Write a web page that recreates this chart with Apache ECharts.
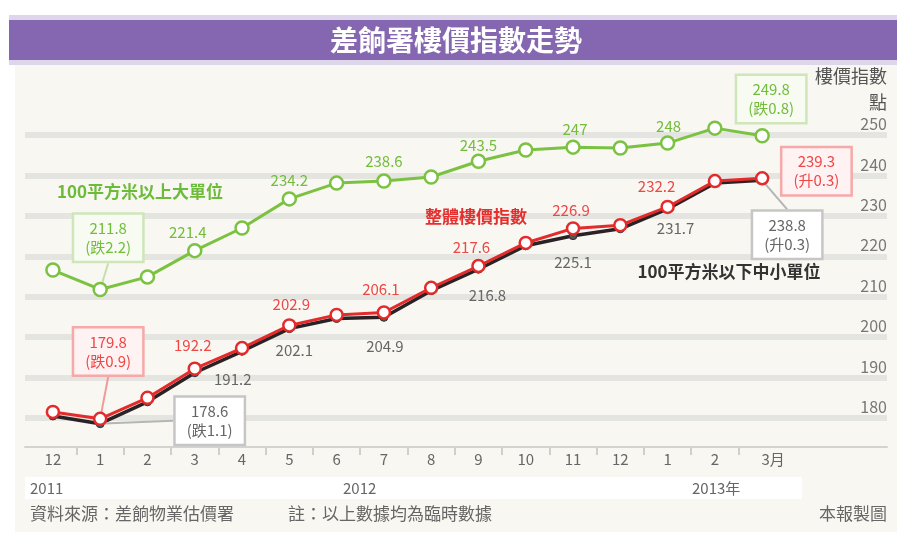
<!DOCTYPE html>
<html><head><meta charset="utf-8">
<script src="https://cdn.jsdelivr.net/npm/echarts@6/dist/echarts.min.js"></script>
<style>html,body{margin:0;padding:0;background:#fff}#c{width:908px;height:540px}</style>
</head><body><div id="c"></div>
<script>
// ---- data ----
const months = ['12','1','2','3','4','5','6','7','8','9','10','11','12','1','2','3月'];
const years = ['2011','2012','2013年'];
const yTicks = [180,190,200,210,220,230,240,250];
const largeUnits  = [216.6,211.8,214.9,221.4,227.0,234.2,238.1,238.6,239.6,243.5,246.3,247,246.8,248,251.7,249.8];
const overall     = [181.5,179.8,185.0,192.2,197.3,202.9,205.5,206.1,212.2,217.6,223.3,226.9,227.7,232.2,238.6,239.3];
const smallMedium = [180.5,178.6,184.0,191.2,196.5,202.1,204.6,204.9,211.5,216.8,222.6,225.1,226.8,231.7,238.1,238.8];
const seriesNames = ['100平方米以上大單位','整體樓價指數','100平方米以下中小單位'];

// ---- styling (label placement) ----
const FONT = "'Noto Sans CJK TC','Noto Sans',sans-serif";
const styleCfg = {
  green: {color:'#7cc242', text:'#72bd3c', pos:'top', dist:5,
    plain:{3:[-7,2],5:[0,2],7:[0,0],9:[0,4],11:[2,2],13:[1,3]},
    box:{1:{pos:'top',d:[8,-16],line:true},15:{pos:'top',d:[9,-1],line:false}},
    boxBg:'#f7fbf1', boxBorder:'#cfe6bb', lineColor:'#c3e0ab'},
  red: {color:'#e42b2b', text:'#ef4646', pos:'top', dist:7,
    plain:{3:[-2,-2],5:[2,1],7:[-3,-1],9:[-7,3],11:[-2,4],13:[-11,1]},
    box:{1:{pos:'top',d:[8,-32],line:true},15:{pos:'right',d:[42,-7],line:false}},
    boxBg:'#fff2f2', boxBorder:'#f5a9a9', lineColor:'#f29a9a'},
  black: {color:'#2a2224', text:'#666666', pos:'bottom', dist:5,
    plain:{3:[38,-10],5:[5,5],7:[1,12],9:[9,9],11:[0,10],13:[8,2]},
    box:{1:{pos:'right',d:[100,-3],line:true},15:{pos:'bottom',d:[25,22],line:true}},
    boxBg:'#ffffff', boxBorder:'#c6c6c6', lineColor:'#b5b5b5'}
};

function pct(arr,i){const c=(arr[i]/arr[i-1]-1)*100;return (c<0?'跌':'升')+Math.abs(c).toFixed(1);}
function buildData(vals,cfg){
  return vals.map((v,i)=>{
    const item={value:[i,v]};
    if(cfg.plain[i]){item.label={show:true,position:cfg.pos,distance:cfg.dist};}
    if(cfg.box[i]){
      item.label={show:true,position:cfg.box[i].pos,distance:5,
        formatter:String(v)+'\n('+pct(vals,i)+')',
        backgroundColor:cfg.boxBg,borderColor:cfg.boxBorder,borderWidth:2.5,
        padding:[4,11],lineHeight:19,align:'center'};
      item.labelLine={show:cfg.box[i].line,lineStyle:{color:cfg.lineColor,width:2}};
    }
    return item;
  });
}
function makeSeries(name,vals,cfg,opts){
  return Object.assign({
    name:name,type:'line',clip:false,data:buildData(vals,cfg),
    lineStyle:{color:cfg.color,width:3},
    itemStyle:{color:'#ffffff',borderColor:cfg.color,borderWidth:2.5},
    symbol:'circle',symbolSize:12,
    label:{show:false,color:cfg.text,fontSize:15,fontFamily:FONT,formatter:p=>String(p.value[1])},
    labelLine:{show:false,lineStyle:{color:cfg.lineColor,width:2}},
    labelLayout:function(p){
      const b=cfg.box[p.dataIndex];
      const d=b?b.d:cfg.plain[p.dataIndex];
      return d?{dx:d[0],dy:d[1]}:{};
    },
    emphasis:{disabled:true}
  },opts||{});
}

const chart=echarts.init(document.getElementById('c'));
const txt=(t,x,y,o)=>({type:'text',z:100,style:Object.assign({text:t,x:x,y:y,font:'15px '+FONT,fill:'#666',textAlign:'left',textVerticalAlign:'middle'},o||{})});

chart.setOption({
  backgroundColor:'#ffffff',
  animation:false,
  grid:{left:25,right:21,top:135,bottom:122},
  xAxis:{type:'value',min:-0.59,max:17.64,offset:29,
    splitLine:{show:false},
    axisLine:{show:true,lineStyle:{color:'#d3d3d0',width:2}},
    axisTick:{show:true,customValues:months.slice(1).map((m,i)=>i+0.5),length:8,lineStyle:{color:'#cfcfcc',width:2}},
    axisLabel:{customValues:months.map((m,i)=>i),margin:5,color:'#666',fontSize:15,fontFamily:FONT,
      formatter:v=>{const i=Math.round(v);return i===months.length-1?'{m|'+months[i]+'}':months[i];},
      rich:{m:{padding:[0,0,0,22],color:'#666',fontSize:15,fontFamily:FONT}}}
  },
  yAxis:{type:'value',position:'right',min:yTicks[0],max:yTicks[yTicks.length-1],interval:10,
    axisLine:{show:false},axisTick:{show:false},
    splitLine:{show:true,lineStyle:{color:'#e4e4e1',width:6}},
    axisLabel:{inside:true,margin:0,align:'right',verticalAlign:'bottom',padding:[0,0,3,0],color:'#777',fontSize:16,fontFamily:FONT}
  },
  series:[
    makeSeries(seriesNames[0],largeUnits,styleCfg.green,{symbolSize:13}),
    makeSeries(seriesNames[2],smallMedium,styleCfg.black,{symbolSize:8,lineStyle:{color:'#2a2224',width:3.5},itemStyle:{color:'#555',borderColor:'#333',borderWidth:1}}),
    makeSeries(seriesNames[1],overall,styleCfg.red,{})
  ],
  graphic:[
    {type:'rect',z:-100,shape:{x:15,y:65,width:882,height:467},style:{fill:'#f8f7f1'}},
    {type:'rect',z:-99,shape:{x:9,y:15,width:888,height:50},style:{fill:'#ddd5ea'}},
    {type:'rect',z:-98,shape:{x:9,y:20,width:888,height:40},style:{fill:'#8567b1'}},
    {type:'rect',z:-97,shape:{x:25,y:477,width:777,height:22},style:{fill:'#ffffff'}},
    txt('差餉署樓價指數走勢',456,40,{font:'bold 28px '+FONT,fill:'#ffffff',textAlign:'center'}),
    txt(years[0],30,488,{font:'15px '+FONT}),
    txt(years[1],343,488,{font:'15px '+FONT}),
    txt(years[2],692,488,{font:'15px '+FONT}),
    txt('資料來源：差餉物業估價署',30,514,{font:'17px '+FONT}),
    txt('註：以上數據均為臨時數據',288,514,{font:'17px '+FONT}),
    txt('本報製圖',887,514,{font:'17px '+FONT,textAlign:'right'}),
    txt('樓價指數',887,76,{font:'18px '+FONT,fill:'#555',textAlign:'right'}),
    txt('點',887,102,{font:'18px '+FONT,fill:'#555',textAlign:'right'}),
    txt(seriesNames[0],140,192,{font:'bold 17px '+FONT,fill:'#6dbb3a',textAlign:'center'}),
    txt(seriesNames[1],476,217,{font:'bold 17px '+FONT,fill:'#e52e2e',textAlign:'center'}),
    txt(seriesNames[2],729,272,{font:'bold 17px '+FONT,fill:'#333',textAlign:'center'})
  ]
});
</script></body></html>
